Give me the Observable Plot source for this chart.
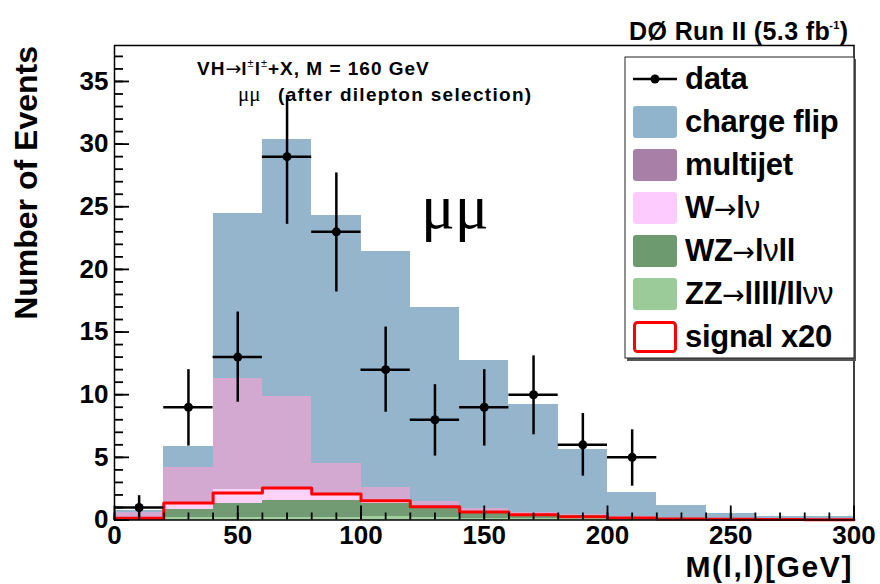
<!DOCTYPE html>
<html><head><meta charset="utf-8">
<script src="https://cdn.jsdelivr.net/npm/d3@7"></script>
<script src="https://cdn.jsdelivr.net/npm/@observablehq/plot@0.6"></script>
<style>
html,body{margin:0;padding:0;background:#fff;}
#chart{width:880px;height:584px;}
</style></head><body><div id="chart"></div>
<script>
// ---- data ----
const binLo = [0,20,40,60,80,100,120,140,160,180,200,220,240,260,280];
const binWidth = 20;
const zz         = [0.05,0.2,0.2,0.22,0.22,0.25,0.2,0.15,0.12,0.1,0.06,0.04,0.03,0.02,0.01];
const wz         = [0.05,0.6,1.13,1.32,1.32,1.03,0.8,0.43,0.33,0.27,0.14,0.06,0.03,0.02,0.02];
const wlnu       = [0.1,0.5,1.14,0.91,0.4,0.17,0.05,0.04,0.02,0.01,0.01,0.01,0,0,0];
const multijet   = [0.4,2.9,8.8,7.4,2.6,1.15,0.41,0.31,0.14,0.07,0.04,0.02,0.01,0.01,0.01];
const chargeFlip = [0.15,1.7,13.2,20.5,19.8,18.8,15.5,11.8,8.6,5.2,1.95,1.0,0.41,0.24,0.25];
const signalX20  = [0.13,1.36,2.15,2.55,2.07,1.54,1.06,0.64,0.42,0.26,0.15,0.08,0.05,0.03,0.02];

const dataX      = [10,30,50,70,90,110,130,150,170,190,210];
const dataY      = [1,9,13,29,23,12,8,9,10,6,5];
const dataErrLo  = [0.2,5.9,9.4,23.6,18.2,8.6,5.1,5.9,6.8,3.5,2.7];
const dataErrHi  = [1.94,12.0,16.6,33.9,27.7,15.4,10.8,12.0,13.1,8.5,7.2];

const xMajorTicks = [0,50,100,150,200,250,300];
const xMinorTicks = [0,10,20,30,40,50,60,70,80,90,100,110,120,130,140,150,160,170,180,190,200,210,220,230,240,250,260,270,280,290,300];
const yMajorTicks = [0,5,10,15,20,25,30,35];
const yMinorTicks = [0,1,2,3,4,5,6,7,8,9,10,11,12,13,14,15,16,17,18,19,20,21,22,23,24,25,26,27,28,29,30,31,32,33,34,35,36,37];

const components = ["ZZ","WZ","W","multijet","chargeFlip"];
const compValues = {ZZ: zz, WZ: wz, W: wlnu, multijet: multijet, chargeFlip: chargeFlip};
const fillColors = {ZZ:"#a1ce9f", WZ:"#729a73", W:"#fdd2f8", multijet:"#d3a9d2", chargeFlip:"#94b5cc"};

const legendLabels = ["data","charge flip","multijet","W→lν","WZ→lνll","ZZ→llll/llνν","signal x20"];
const legendColors = [null,"#8fb4cc","#a87fa6","#fecbfe","#6e9a6f","#9ccb9a",null];

// ---- build tables ----
const stackRows = [];
binLo.forEach((lo, i) => {
  let acc = 0;
  for (const c of components) {
    const v = compValues[c][i];
    stackRows.push({comp: c, x1: lo, x2: lo + binWidth, y1: acc, y2: acc + v});
    acc += v;
  }
});
const signalPts = binLo.map((lo, i) => ({x: lo, y: signalX20[i]}));
signalPts.push({x: binLo[binLo.length-1] + binWidth, y: signalX20[signalX20.length-1]});
const points = dataX.map((x, i) => ({x, y: dataY[i], x1: x - binWidth/2, x2: x + binWidth/2, lo: dataErrLo[i], hi: dataErrHi[i]}));

const sans = "'Liberation Sans', Arial, Helvetica, sans-serif";
const serif = "'Liberation Serif', 'Times New Roman', serif";
const arrowFont = "'DejaVu Sans', sans-serif";

const plot = Plot.plot({
  width: 880, height: 584,
  marginLeft: 114, marginRight: 26.5, marginTop: 45, marginBottom: 64.5,
  x: {domain: [0, 300], label: null},
  y: {domain: [0, 37.87], label: null},
  style: {fontFamily: sans, background: "white", overflow: "visible", color: "black"},
  marks: [
    ...components.map(c => Plot.rect(stackRows.filter(d => d.comp === c), {x1: "x1", x2: "x2", y1: "y1", y2: "y2", fill: fillColors[c], shapeRendering: "crispEdges"})),
    Plot.line(signalPts, {x: "x", y: "y", curve: "step-after", stroke: "#ff0000", strokeWidth: 3}),
    Plot.ruleY(points, {y: "y", x1: "x1", x2: "x2", stroke: "black", strokeWidth: 2.5}),
    Plot.ruleX(points, {x: "x", y1: "lo", y2: "hi", stroke: "black", strokeWidth: 2.5}),
    Plot.dot(points, {x: "x", y: "y", r: 4.5, fill: "black"}),
    Plot.axisX(xMinorTicks, {tickSize: -7, tickFormat: () => "", strokeWidth: 1.8, label: null}),
    Plot.axisX(xMajorTicks, {tickSize: -14, tickPadding: 20, fontSize: 26, fontWeight: "bold", strokeWidth: 1.8, label: null, tickFormat: d => String(d)}),
    Plot.axisY(yMinorTicks, {tickSize: -9, tickFormat: () => "", strokeWidth: 1.8, label: null}),
    Plot.axisY(yMajorTicks, {tickSize: -15, tickPadding: 21, fontSize: 26, fontWeight: "bold", strokeWidth: 1.8, label: null, tickFormat: d => String(d)}),
    Plot.frame({stroke: "black", strokeWidth: 1.5})
  ]
});
document.getElementById("chart").appendChild(plot);

const svg = d3.select(plot);
const ann = svg.append("g").attr("text-anchor", "start").attr("font-family", sans);

// Title top right
const t = ann.append("text").attr("x", 629).attr("y", 40).attr("font-size", 25).attr("font-weight", "bold").attr("letter-spacing", 0.4);
t.append("tspan").text("DØ Run II (5.3 fb");
t.append("tspan").attr("font-size", 11).attr("dy", -11).attr("dx", -1).text("-1");
t.append("tspan").attr("dy", 11).text(")");

// Axis titles
ann.append("text").attr("transform", "translate(37,46) rotate(-90)").attr("text-anchor", "end")
  .attr("font-size", 32).attr("font-weight", "bold").text("Number of Events");
ann.append("text").attr("x", 853).attr("y", 577).attr("text-anchor", "end")
  .attr("font-size", 30).attr("font-weight", "bold").attr("letter-spacing", 1.6).text("M(l,l)[GeV]");

// Annotation
const a1 = ann.append("text").attr("x", 197).attr("y", 75).attr("font-size", 19).attr("font-weight", "bold").attr("letter-spacing", 1.0);
a1.append("tspan").text("VH");
a1.append("tspan").attr("font-weight", "normal").attr("font-family", arrowFont).attr("letter-spacing", 0).text("→");
a1.append("tspan").text("l");
a1.append("tspan").attr("font-size", 11).attr("dy", -8).attr("font-weight", "normal").text("±");
a1.append("tspan").attr("dy", 8).text("l");
a1.append("tspan").attr("font-size", 11).attr("dy", -8).attr("font-weight", "normal").text("±");
a1.append("tspan").attr("dy", 8).text("+X, M = 160 GeV");

ann.append("text").attr("x", 238).attr("y", 101).attr("font-size", 21).attr("font-family", serif).text("μμ");
ann.append("text").attr("x", 278).attr("y", 101).attr("font-size", 19).attr("font-weight", "bold").attr("letter-spacing", 1.3).text("(after dilepton selection)");

ann.append("text").attr("x", 421).attr("y", 228).attr("font-size", 63).attr("font-family", serif).text("μμ");

// Legend
const lg = svg.append("g").attr("text-anchor", "start").attr("font-family", sans);
lg.append("rect").attr("x", 627).attr("y", 59).attr("width", 229).attr("height", 302).attr("fill", "#555");
lg.append("rect").attr("x", 625).attr("y", 57).attr("width", 229).attr("height", 301).attr("fill", "white").attr("stroke", "#222").attr("stroke-width", 1);
legendLabels.forEach((lab, i) => {
  const cy = 79 + i * 43;
  if (i === 0) {
    lg.append("line").attr("x1", 633).attr("x2", 677).attr("y1", cy).attr("y2", cy).attr("stroke", "black").attr("stroke-width", 2.5);
    lg.append("circle").attr("cx", 655).attr("cy", cy).attr("r", 4.5).attr("fill", "black");
  } else if (legendColors[i]) {
    lg.append("rect").attr("x", 633).attr("y", cy - 16).attr("width", 44).attr("height", 32).attr("rx", 3).attr("fill", legendColors[i]);
  } else {
    lg.append("rect").attr("x", 634.5).attr("y", cy - 14.5).attr("width", 41).attr("height", 29).attr("rx", 3).attr("fill", "white").attr("stroke", "#ff0000").attr("stroke-width", 3);
  }
  const tx = lg.append("text").attr("x", 685).attr("y", cy + 10).attr("font-size", 31).attr("font-weight", "bold").attr("letter-spacing", -0.3);
  const parts = lab.split(/([→ν])/);
  parts.forEach(p => {
    if (!p) return;
    const ts = tx.append("tspan").text(p);
    if (p === "ν") ts.attr("font-weight", "normal");
    if (p === "→") ts.attr("font-weight", "normal").attr("font-family", arrowFont).attr("font-size", 27);
  });
});
</script>
</body></html>
